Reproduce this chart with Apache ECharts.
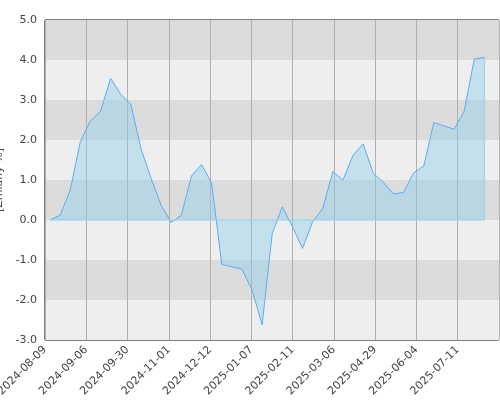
<!DOCTYPE html><html><head><meta charset="utf-8">
<script src="https://cdn.jsdelivr.net/npm/echarts@6/dist/echarts.min.js"></script>
<style>html,body{margin:0;padding:0;background:#fff}#c{width:500px;height:400px}</style></head><body><div id="c"></div>
<script>
const tickLabels=['2024-08-09','2024-09-06','2024-09-30','2024-11-01','2024-12-12','2025-01-07','2025-02-11','2025-03-06','2025-04-29','2025-06-04','2025-07-11',''];
const values=[0,0.12,0.75,1.96,2.48,2.72,3.54,3.14,2.89,1.79,1.04,0.37,-0.06,0.12,1.1,1.39,0.92,-1.11,-1.17,-1.23,-1.75,-2.62,-0.33,0.33,-0.17,-0.71,-0.04,0.29,1.21,1.0,1.62,1.9,1.17,0.94,0.65,0.69,1.18,1.35,2.44,2.35,2.27,2.72,4.02,4.07];
const chart=echarts.init(document.getElementById('c'));
chart.setOption({
 animation:false,
 grid:{left:45,right:1,top:20,bottom:60,containLabel:false,outerBoundsMode:'none',show:true,borderColor:'#000',borderWidth:1},
 xAxis:[
  {type:'value',min:-0.5,max:44.45,show:false},
  {type:'value',min:0,max:11,interval:1,position:'bottom',
   axisLine:{show:false},axisTick:{show:false},
   splitLine:{show:true,lineStyle:{color:'#b0b0b0',width:1}},
   axisLabel:{rotate:45,fontSize:11,color:'#444',fontFamily:'DejaVu Sans',margin:8,
     formatter:v=>tickLabels[v]||''}}
 ],
 yAxis:{type:'value',min:-3,max:5,interval:1,name:'[Zmiany %]',nameLocation:'middle',nameGap:30,
   nameTextStyle:{color:'#444',fontSize:11,fontFamily:'DejaVu Sans'},
   axisLine:{show:false},axisTick:{show:false},splitLine:{show:false},
   splitArea:{show:true,areaStyle:{color:['#eeeeee','#dcdcdc']}},
   axisLabel:{formatter:v=>v.toFixed(1),fontSize:11,color:'#444',fontFamily:'DejaVu Sans'}},
 series:[{type:'line',xAxisIndex:0,data:values.map((v,i)=>[i,v]),symbol:'none',
   lineStyle:{color:'#5aaef0',width:1},
   areaStyle:{color:'rgba(140,205,235,0.6)',origin:0}},
  {type:'line',xAxisIndex:0,data:[[values.length-1,0],[values.length-1,values[values.length-1]]],symbol:'none',lineStyle:{color:'#8fd0ee',width:1}},
  {type:'line',xAxisIndex:0,data:[[0,0],[values.length-1,0]],symbol:'none',lineStyle:{color:'#8fd0ee',width:1}}]
});
</script></body></html>
